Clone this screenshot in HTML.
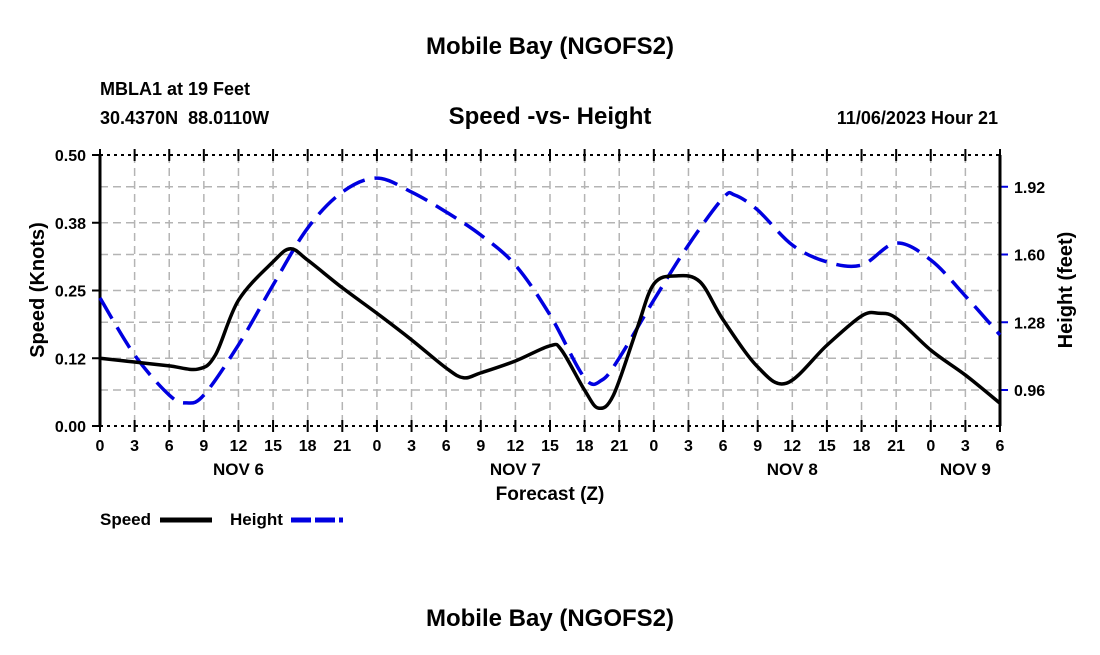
<!DOCTYPE html>
<html><head><meta charset="utf-8"><style>
body{margin:0;background:#fff}
svg text{font-family:"Liberation Sans",sans-serif;font-weight:bold;fill:#000}
</style></head><body>
<svg width="1100" height="650">
<text x="550" y="54" font-size="24" text-anchor="middle">Mobile Bay (NGOFS2)</text>
<text x="100" y="95" font-size="18">MBLA1 at 19 Feet</text>
<text x="100" y="124" font-size="18" style="white-space:pre">30.4370N  88.0110W</text>
<text x="550" y="124" font-size="24" text-anchor="middle">Speed -vs- Height</text>
<text x="998" y="124" font-size="18" text-anchor="end">11/06/2023 Hour 21</text>
<g id="grid"></g>
<g id="axes"></g>
<path id="height" fill="none" stroke="#0000e0" stroke-width="3.5" stroke-dasharray="24,10"/>
<path id="speed" fill="none" stroke="#000" stroke-width="3.5"/>
<text transform="translate(44,290) rotate(-90)" font-size="20" text-anchor="middle">Speed (Knots)</text>
<text transform="translate(1072,290) rotate(-90)" font-size="20" text-anchor="middle">Height (feet)</text>
<text x="550" y="500" font-size="19" text-anchor="middle">Forecast (Z)</text>
<g>
<text x="100" y="525" font-size="17">Speed</text>
<line x1="160" y1="520" x2="212" y2="520" stroke="#000" stroke-width="5"/>
<text x="230" y="525" font-size="17">Height</text>
<line x1="291" y1="520" x2="343" y2="520" stroke="#0000e0" stroke-width="5" stroke-dasharray="20,4"/>
</g>
<text x="550" y="626" font-size="24" text-anchor="middle">Mobile Bay (NGOFS2)</text>
</svg>
<script>
const speedHours=[0,3,6,8.5,10,12,15,16.5,18,21,24,27,30,31.5,33,36,39,40,42,43.2,44.5,46.5,48,50,52,54,57,59.5,63,66,67.5,69,72,75,78];
const speedVals=[0.125,0.118,0.111,0.105,0.131,0.232,0.303,0.327,0.306,0.255,0.208,0.159,0.107,0.089,0.098,0.120,0.148,0.140,0.066,0.033,0.057,0.177,0.262,0.277,0.266,0.196,0.109,0.079,0.149,0.203,0.208,0.199,0.140,0.094,0.042];
const heightHours=[0,3,6,7.5,9,12,15,18,21,24,27,30,33,36,39,42,43.5,45,48,51,54,55,57,60,63,66,69,72,75,78];
const heightVals=[1.395,1.125,0.936,0.899,0.936,1.173,1.456,1.725,1.895,1.961,1.895,1.801,1.692,1.550,1.314,1.017,1.007,1.111,1.385,1.645,1.867,1.881,1.810,1.645,1.565,1.550,1.654,1.574,1.404,1.220];
const leftTicks=[0,0.125,0.25,0.375,0.5];
const leftLabels=["0.00","0.12","0.25","0.38","0.50"];
const rightTicks=[0.96,1.28,1.60,1.92];
const xTickLabels=["0","3","6","9","12","15","18","21","0","3","6","9","12","15","18","21","0","3","6","9","12","15","18","21","0","3","6"];
const dayLabels=["NOV 6","NOV 7","NOV 8","NOV 9"];
const dayHours=[12,36,60,75];
const L=100,R=1000,T=155,B=426,HMAX=78,HMIN=0.79,HTOP=2.07;
const x=h=>L+(R-L)*h/HMAX;
const ys=v=>B-(B-T)*v/0.5;
const yh=v=>B-(B-T)*(v-HMIN)/(HTOP-HMIN);
const NS="http://www.w3.org/2000/svg";
function mk(tag,attrs,parent,txt){const e=document.createElementNS(NS,tag);for(const k in attrs)e.setAttribute(k,attrs[k]);if(txt!==undefined)e.textContent=txt;parent.appendChild(e);return e;}
const grid=document.getElementById('grid'),axes=document.getElementById('axes');
xTickLabels.forEach((t,i)=>{const xx=x(i*3);
 if(i>0&&i<xTickLabels.length-1){const g=mk('line',{x1:xx,x2:xx,y1:T,y2:B,stroke:'#b4b4b4','stroke-width':1.5,'stroke-dasharray':'8,5'},grid);
 
 }
 const tk=mk('line',{x1:xx,x2:xx,y1:B-6,y2:B+6,stroke:'#000','stroke-width':2},axes);
 
 
 const tt=mk('line',{x1:xx,x2:xx,y1:T-6,y2:T+6,stroke:'#000','stroke-width':2},axes);
 
 
 const lb=mk('text',{x:xx,y:B+25,'font-size':16,'text-anchor':'middle'},axes,t);
 
 });
dayLabels.forEach((d,i)=>{const e=mk('text',{x:x(dayHours[i]),y:B+49,'font-size':17,'text-anchor':'middle'},axes,d);
 
 });
leftTicks.forEach((v,i)=>{const yy=ys(v);
 if(i>0&&i<leftTicks.length-1){const g=mk('line',{x1:L,x2:R,y1:yy,y2:yy,stroke:'#b4b4b4','stroke-width':1.5,'stroke-dasharray':'8,5'},grid);
 
 }
 const tk=mk('line',{x1:L-8,x2:L,y1:yy,y2:yy,stroke:'#000','stroke-width':2},axes);
 
 
 const lb=mk('text',{x:L-14,y:yy+6,'font-size':16,'text-anchor':'end'},axes,leftLabels[i]);
 
 });
rightTicks.forEach(v=>{const yy=yh(v);
 const g=mk('line',{x1:L,x2:R,y1:yy,y2:yy,stroke:'#b4b4b4','stroke-width':1.5,'stroke-dasharray':'8,5'},grid);
 
 
 const tk=mk('line',{x1:R,x2:R+8,y1:yy,y2:yy,stroke:'#0000e0','stroke-width':2},axes);
 
 
 const lb=mk('text',{x:R+14,y:yy+6,'font-size':16},axes,v.toFixed(2));
 
 });
const f1=mk('line',{x1:L,x2:L,y1:T,y2:B,stroke:'#000','stroke-width':3},axes);


const f2=mk('line',{x1:R,x2:R,y1:T,y2:B,stroke:'#000','stroke-width':3},axes);


const f3=mk('line',{x1:L,x2:R,y1:T,y2:T,stroke:'#000','stroke-width':2,'stroke-dasharray':'3,4'},axes);


const f4=mk('line',{x1:L,x2:R,y1:B,y2:B,stroke:'#000','stroke-width':2,'stroke-dasharray':'3,4'},axes);


function smooth(pts){let d=`M${pts[0][0]},${pts[0][1]}`;
 for(let i=0;i<pts.length-1;i++){const p0=pts[Math.max(i-1,0)],p1=pts[i],p2=pts[i+1],p3=pts[Math.min(i+2,pts.length-1)];
 const t=1/6;d+=` C${p1[0]+(p2[0]-p0[0])*t},${p1[1]+(p2[1]-p0[1])*t} ${p2[0]-(p3[0]-p1[0])*t},${p2[1]-(p3[1]-p1[1])*t} ${p2[0]},${p2[1]}`;}
 return d;}
document.getElementById('speed').setAttribute('d',smooth(speedHours.map((h,i)=>[x(h),ys(speedVals[i])])));
document.getElementById('height').setAttribute('d',smooth(heightHours.map((h,i)=>[x(h),yh(heightVals[i])])));
</script>
</body></html>
